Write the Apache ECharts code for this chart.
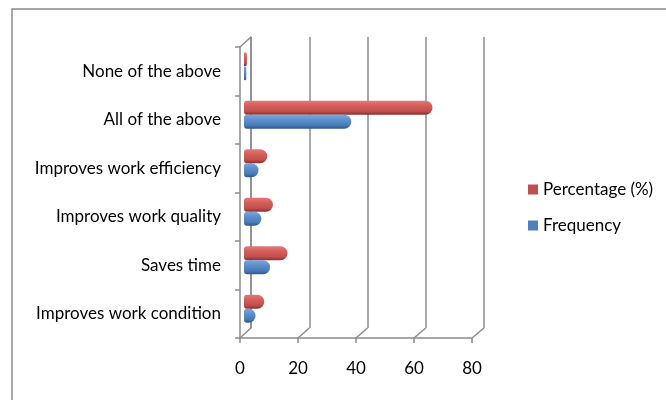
<!DOCTYPE html>
<html><head><meta charset="utf-8">
<script src="https://cdn.jsdelivr.net/npm/echarts/dist/echarts.min.js"></script>
<style>html,body{margin:0;padding:0;background:#fff}#c{width:666px;height:400px}</style>
</head><body><div id="c"></div>
<script>
const categories = ['Improves work condition','Saves time','Improves work quality','Improves work efficiency','All of the above','None of the above'];
const frequency = [4, 9, 6, 5, 37, 0.8];
const percentage = [7, 15, 10, 8, 65, 1];
const xTicks = [0, 20, 40, 60, 80];
const seriesNames = ['Percentage (%)', 'Frequency'];

const FONT = 'Lato';
const FS = 17;
const GRAY = '#8c8c8c';
const front = {left: 240, top: 47, width: 232, height: 291};
const back = {left: 251, top: 37, width: 233, height: 291};
const bars = {left: 244, top: 42, width: 232, height: 291};

function cyl(c0, c1, c2, c3) {
  return new echarts.graphic.LinearGradient(0, 0, 0, 1, [
    {offset: 0, color: c0}, {offset: 0.35, color: c1}, {offset: 0.75, color: c2}, {offset: 1, color: c3}
  ]);
}
const blueFill = cyl('#7ea6da', '#5d8fcf', '#4a7bb8', '#2d5688');
const redFill = cyl('#e27a76', '#d65e5a', '#c0504d', '#88302e');

const chart = echarts.init(document.getElementById('c'), null, {renderer: 'canvas'});
const xBase = {type: 'value', min: xTicks[0], max: xTicks[xTicks.length - 1], interval: xTicks[1] - xTicks[0]};
const option = {
  animation: false,
  backgroundColor: '#fff',
  textStyle: {fontFamily: FONT},
  grid: [front, back, bars].map(g => Object.assign({containLabel: false}, g)),
  xAxis: [
    Object.assign({}, xBase, {gridIndex: 0,
      axisLine: {show: true, lineStyle: {color: GRAY, width: 1.5}},
      axisTick: {show: true, length: 5, lineStyle: {color: GRAY, width: 1.5}},
      axisLabel: {show: true, margin: 22, fontSize: FS, color: '#000', fontFamily: FONT},
      splitLine: {show: false}}),
    Object.assign({}, xBase, {gridIndex: 1,
      axisLine: {show: false}, axisTick: {show: false}, axisLabel: {show: false},
      splitLine: {show: true, lineStyle: {color: GRAY, width: 1.5}}}),
    Object.assign({}, xBase, {gridIndex: 2, show: false})
  ],
  yAxis: [
    {type: 'category', gridIndex: 0, data: categories,
      axisLine: {show: true, lineStyle: {color: GRAY, width: 1.5}},
      axisTick: {show: true, length: 5, lineStyle: {color: GRAY, width: 1.5}},
      axisLabel: {margin: 19, fontSize: FS, color: '#000', fontFamily: FONT}},
    {type: 'category', gridIndex: 1, data: categories,
      axisLine: {show: true, lineStyle: {color: GRAY, width: 1.5}},
      axisTick: {show: false}, axisLabel: {show: false}},
    {type: 'category', gridIndex: 2, data: categories, show: false}
  ],
  legend: {
    orient: 'vertical', left: 528, top: 181, padding: 0, itemWidth: 10, itemHeight: 10, itemGap: 19,
    textStyle: {fontSize: FS, color: '#000', fontFamily: FONT},
    data: [
      {name: seriesNames[0], icon: 'rect', itemStyle: {color: '#C0504D'}},
      {name: seriesNames[1], icon: 'rect', itemStyle: {color: '#4F81BD'}}
    ]
  },
  series: [
    {name: seriesNames[0], type: 'bar', xAxisIndex: 2, yAxisIndex: 2, data: percentage,
      barWidth: 14, barGap: '0%',
      itemStyle: {color: redFill, borderRadius: [3, 7, 7, 3]}},
    {name: seriesNames[1], type: 'bar', xAxisIndex: 2, yAxisIndex: 2, data: frequency,
      barWidth: 14, barGap: '0%',
      itemStyle: {color: blueFill, borderRadius: [3, 7, 7, 3]}}
  ]
};
chart.setOption(option);

// 3D frame decorations derived from the axes
const els = [];
const fb = front.top + front.height, bb = back.top + back.height;
xTicks.forEach(v => {
  const xf = chart.convertToPixel({xAxisIndex: 0}, v);
  const xb = chart.convertToPixel({xAxisIndex: 1}, v);
  els.push({type: 'line', shape: {x1: xf, y1: fb, x2: xb, y2: bb}, style: {stroke: GRAY, lineWidth: 1.5}, silent: true});
});
els.push({type: 'line', shape: {x1: front.left, y1: front.top, x2: back.left, y2: back.top}, style: {stroke: GRAY, lineWidth: 1.5}, silent: true});
els.push({type: 'rect', shape: {x: 12, y: 9, width: 700, height: 450}, style: {fill: 'none', stroke: '#8a8a8a', lineWidth: 1.5}, silent: true, z: 100});
chart.setOption({graphic: els});
</script>
</body></html>
